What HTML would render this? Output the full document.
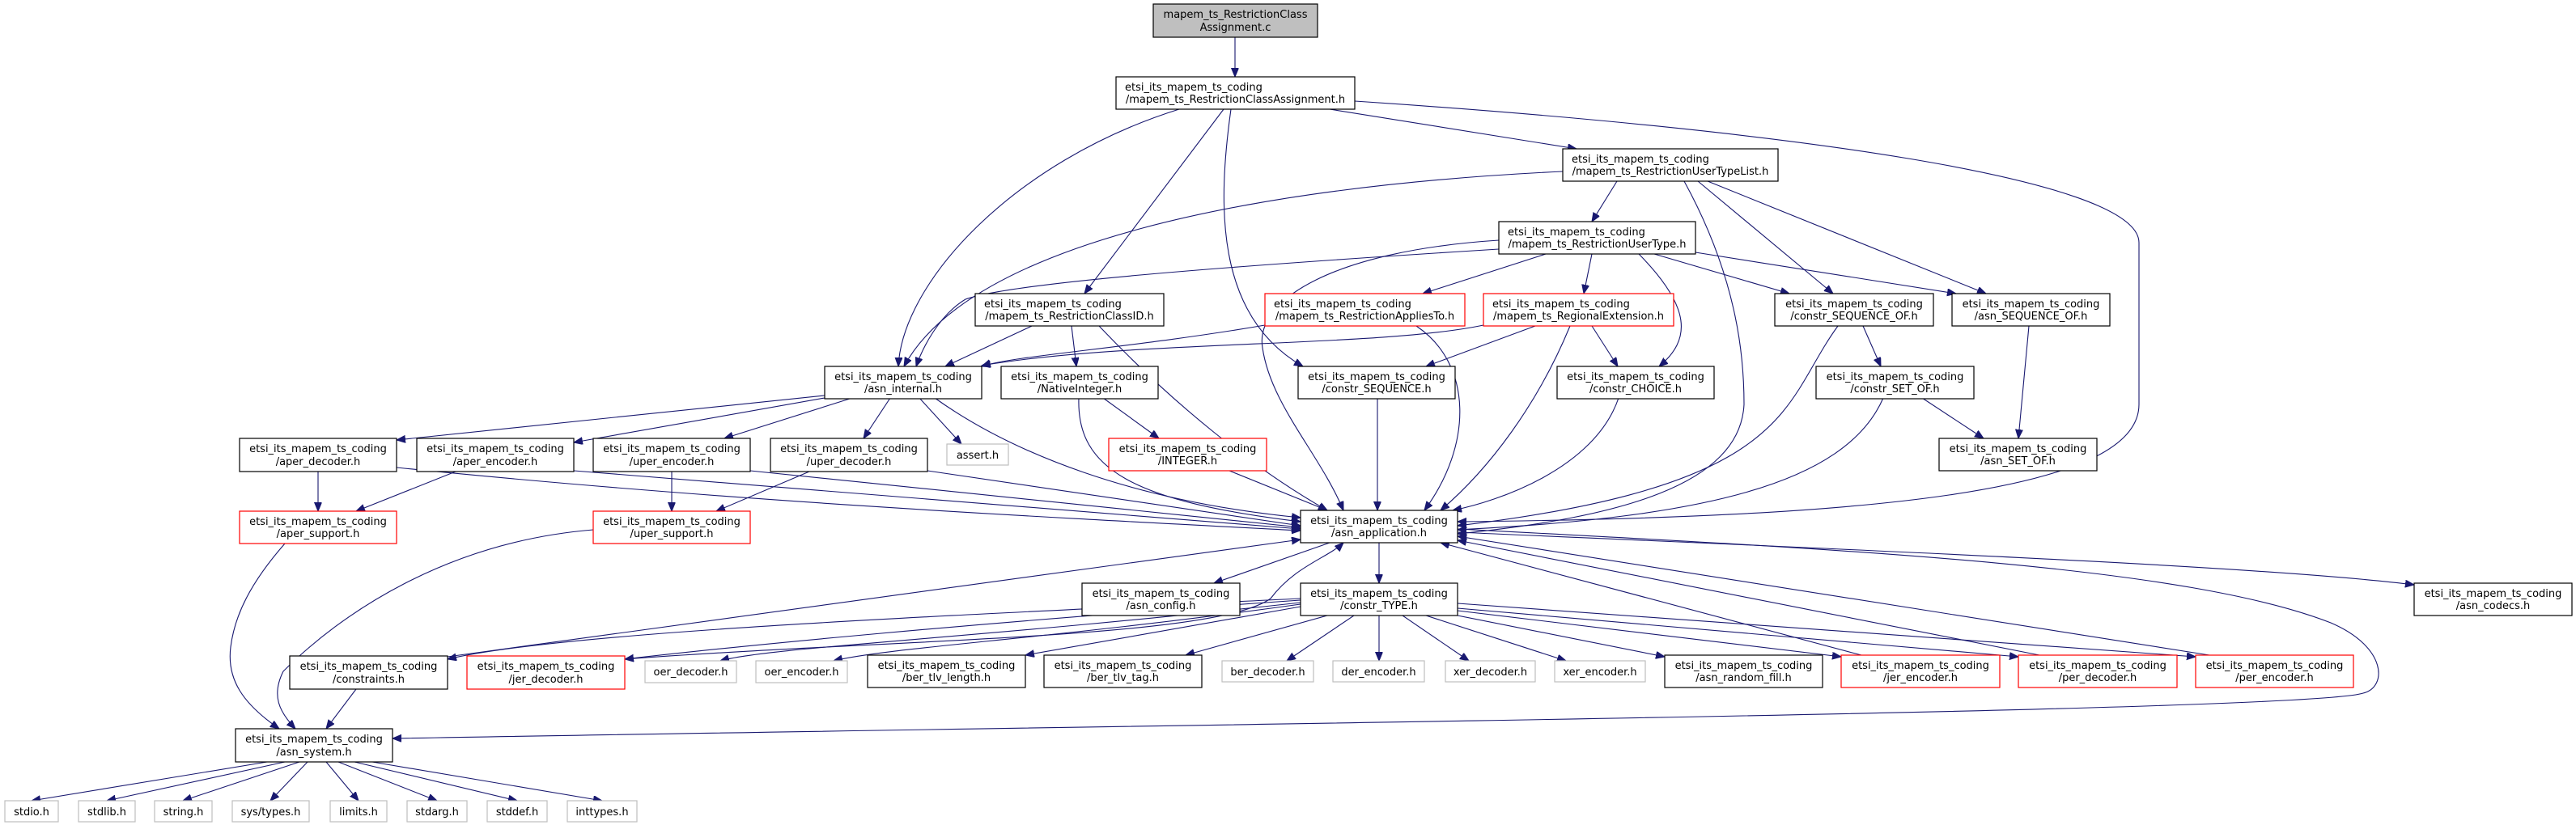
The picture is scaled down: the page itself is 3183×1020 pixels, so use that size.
<!DOCTYPE html>
<html><head><meta charset="utf-8"><style>
html,body{margin:0;padding:0;background:#fff;}
svg{display:block;}
text{font-family:"DejaVu Sans","Liberation Sans",sans-serif;font-size:13px;fill:#000;}
.n{fill:#fff;stroke:#000;stroke-width:1.2;}
.r{fill:#fff;stroke:#ff0000;stroke-width:1.2;}
.g{fill:#fff;stroke:#bfbfbf;stroke-width:1.2;}
.e{fill:none;stroke:#191970;stroke-width:1.1;}
</style></head><body>
<svg width="3183" height="1020" viewBox="0 0 3183 1020" xmlns="http://www.w3.org/2000/svg">
<defs><marker id="a" markerUnits="userSpaceOnUse" markerWidth="12" markerHeight="10" refX="11" refY="4.5" orient="auto"><polygon points="0,0 11,4.5 0,9" fill="#191970" stroke="#191970"/></marker></defs>
<g marker-end="url(#a)">
<path class="e" d="M1526,46 L1526,95"/>
<path class="e" d="M1643,135 L1948,184"/>
<path class="e" d="M1674,125 C2200,160 2643,220 2643,300 L2643,500 C2643,610 2300,640 1801,645"/>
<path class="e" d="M1457,135 C1250,200 1115,350 1110,453"/>
<path class="e" d="M1512,135 L1340,363"/>
<path class="e" d="M1521,135 C1505,250 1500,390 1610,453"/>
<path class="e" d="M1998,224 L1967,274"/>
<path class="e" d="M1931,212 C1550,230 1200,300 1117,453"/>
<path class="e" d="M2098,224 L2265,363"/>
<path class="e" d="M2110,224 L2454,363"/>
<path class="e" d="M2081,224 C2150,350 2155,450 2155,500 C2150,600 2000,640 1801,660"/>
<path class="e" d="M1910,314 L1758,363"/>
<path class="e" d="M1967,314 L1957,363"/>
<path class="e" d="M2025,314 C2090,380 2090,420 2050,453"/>
<path class="e" d="M2044,314 L2211,363"/>
<path class="e" d="M2095,312 L2417,363"/>
<path class="e" d="M1852,308 C1500,330 1250,350 1193,370 C1160,390 1140,430 1132,453"/>
<path class="e" d="M1852,297 C1650,310 1550,370 1560,430 C1570,500 1630,560 1660,631"/>
<path class="e" d="M1275,403 L1168,453"/>
<path class="e" d="M1324,403 L1330,453"/>
<path class="e" d="M1358,403 C1450,500 1550,580 1640,631"/>
<path class="e" d="M1563,402 C1400,430 1250,440 1213,453"/>
<path class="e" d="M1750,403 C1820,450 1820,550 1760,631"/>
<path class="e" d="M1833,402 C1700,430 1400,420 1213,452"/>
<path class="e" d="M1897,403 L1762,453"/>
<path class="e" d="M1967,403 L1999,453"/>
<path class="e" d="M1940,403 C1900,500 1840,580 1780,631"/>
<path class="e" d="M1019,489 L490,544"/>
<path class="e" d="M1019,492 L709,547"/>
<path class="e" d="M1053,492 L895,542"/>
<path class="e" d="M1100,492 L1067,542"/>
<path class="e" d="M1136,492 L1188,549"/>
<path class="e" d="M1155,492 C1250,560 1400,620 1607,640"/>
<path class="e" d="M1363,492 L1432,542"/>
<path class="e" d="M1333,492 C1330,580 1400,620 1607,645"/>
<path class="e" d="M1702,492 L1702,631"/>
<path class="e" d="M2000,492 C1970,580 1850,620 1795,631"/>
<path class="e" d="M2302,403 L2324,453"/>
<path class="e" d="M2271,403 C2200,500 2220,600 1801,650"/>
<path class="e" d="M2375,492 L2451,542"/>
<path class="e" d="M2327,492 C2280,600 2100,640 1801,655"/>
<path class="e" d="M2507,403 L2494,542"/>
<path class="e" d="M1519,582 L1640,631"/>
<path class="e" d="M393,583 L393,632"/>
<path class="e" d="M490,578 C900,620 1300,640 1607,656"/>
<path class="e" d="M563,583 L440,632"/>
<path class="e" d="M709,582 L1607,654"/>
<path class="e" d="M830,583 L830,632"/>
<path class="e" d="M927,582 L1607,652"/>
<path class="e" d="M1000,583 L885,632"/>
<path class="e" d="M1146,582 L1607,650"/>
<path class="e" d="M352,672 C310,720 290,760 285,800 C280,840 300,870 345,901"/>
<path class="e" d="M733,655 C550,670 420,760 350,830 C335,860 345,880 365,901"/>
<path class="e" d="M440,852 L403,901"/>
<path class="e" d="M1643,671 L1500,721"/>
<path class="e" d="M1704,671 L1704,721"/>
<path class="e" d="M1801,658 C2300,680 2800,700 2983,723"/>
<path class="e" d="M1801,654 C2300,680 2700,700 2880,770 C2950,800 2950,850 2920,857 C2850,880 1500,895 485,913"/>
<path class="e" d="M553,812 L1607,667"/>
<path class="e" d="M1607,740 C1200,760 700,780 553,815"/>
<path class="e" d="M1607,742 C1200,770 900,800 772,815"/>
<path class="e" d="M1607,745 C1200,790 950,800 890,817"/>
<path class="e" d="M1607,747 C1300,790 1100,800 1030,817"/>
<path class="e" d="M1607,750 L1267,810"/>
<path class="e" d="M1640,761 L1465,810"/>
<path class="e" d="M1673,761 L1590,817"/>
<path class="e" d="M1704,761 L1704,817"/>
<path class="e" d="M1733,761 L1815,817"/>
<path class="e" d="M1762,761 L1935,817"/>
<path class="e" d="M1801,761 L2057,812"/>
<path class="e" d="M1801,755 L2275,812"/>
<path class="e" d="M1801,752 L2494,812"/>
<path class="e" d="M1801,746 L2713,812"/>
<path class="e" d="M772,815 C1100,790 1500,790 1570,740 C1600,700 1640,690 1660,671"/>
<path class="e" d="M2300,810 L1780,671"/>
<path class="e" d="M2520,810 L1801,668"/>
<path class="e" d="M2730,810 L1801,663"/>
<path class="e" d="M330,942 L39,990"/>
<path class="e" d="M352,942 L132,990"/>
<path class="e" d="M370,942 L226,990"/>
<path class="e" d="M380,942 L334,990"/>
<path class="e" d="M403,942 L443,990"/>
<path class="e" d="M418,942 L540,990"/>
<path class="e" d="M438,942 L639,990"/>
<path class="e" d="M460,942 L744,990"/>
</g>

<rect x="1425" y="5" width="203" height="41" fill="#bfbfbf" stroke="#000" stroke-width="1.2"/>
<text x="1526.5" y="22" text-anchor="middle">mapem_ts_RestrictionClass</text><text x="1526.5" y="38" text-anchor="middle">Assignment.c</text>

<rect class="n" x="1379" y="95" width="295" height="40"/>
<text x="1390" y="112">etsi_its_mapem_ts_coding</text><text x="1526.5" y="127" text-anchor="middle">/mapem_ts_RestrictionClassAssignment.h</text>

<rect class="n" x="1931" y="184" width="266" height="40"/>
<text x="1942" y="201">etsi_its_mapem_ts_coding</text><text x="2064" y="216" text-anchor="middle">/mapem_ts_RestrictionUserTypeList.h</text>

<rect class="n" x="1852" y="274" width="243" height="40"/>
<text x="1863" y="291">etsi_its_mapem_ts_coding</text><text x="1973.5" y="306" text-anchor="middle">/mapem_ts_RestrictionUserType.h</text>

<rect class="n" x="1205" y="363" width="233" height="40"/>
<text x="1216" y="380">etsi_its_mapem_ts_coding</text><text x="1321.5" y="395" text-anchor="middle">/mapem_ts_RestrictionClassID.h</text>

<rect class="r" x="1563" y="363" width="247" height="40"/>
<text x="1574" y="380">etsi_its_mapem_ts_coding</text><text x="1686.5" y="395" text-anchor="middle">/mapem_ts_RestrictionAppliesTo.h</text>

<rect class="r" x="1833" y="363" width="235" height="40"/>
<text x="1844" y="380">etsi_its_mapem_ts_coding</text><text x="1950.5" y="395" text-anchor="middle">/mapem_ts_RegionalExtension.h</text>

<g text-anchor="middle">
<rect class="n" x="2193" y="363" width="196" height="40"/><text x="2291" y="380">etsi_its_mapem_ts_coding</text><text x="2291" y="395">/constr_SEQUENCE_OF.h</text>
<rect class="n" x="2412" y="363" width="195" height="40"/><text x="2509.5" y="380">etsi_its_mapem_ts_coding</text><text x="2509.5" y="395">/asn_SEQUENCE_OF.h</text>

<rect class="n" x="1019" y="453" width="194" height="40"/><text x="1116" y="470">etsi_its_mapem_ts_coding</text><text x="1116" y="485">/asn_internal.h</text>
<rect class="n" x="1237" y="453" width="194" height="40"/><text x="1334" y="470">etsi_its_mapem_ts_coding</text><text x="1334" y="485">/NativeInteger.h</text>
<rect class="n" x="1604" y="453" width="194" height="40"/><text x="1701" y="470">etsi_its_mapem_ts_coding</text><text x="1701" y="485">/constr_SEQUENCE.h</text>
<rect class="n" x="1924" y="453" width="194" height="40"/><text x="2021" y="470">etsi_its_mapem_ts_coding</text><text x="2021" y="485">/constr_CHOICE.h</text>
<rect class="n" x="2244" y="453" width="195" height="40"/><text x="2341.5" y="470">etsi_its_mapem_ts_coding</text><text x="2341.5" y="485">/constr_SET_OF.h</text>

<rect class="n" x="296" y="542" width="194" height="41"/><text x="393" y="559">etsi_its_mapem_ts_coding</text><text x="393" y="575">/aper_decoder.h</text>
<rect class="n" x="515" y="542" width="194" height="41"/><text x="612" y="559">etsi_its_mapem_ts_coding</text><text x="612" y="575">/aper_encoder.h</text>
<rect class="n" x="733" y="542" width="194" height="41"/><text x="830" y="559">etsi_its_mapem_ts_coding</text><text x="830" y="575">/uper_encoder.h</text>
<rect class="n" x="952" y="542" width="194" height="41"/><text x="1049" y="559">etsi_its_mapem_ts_coding</text><text x="1049" y="575">/uper_decoder.h</text>
<rect class="g" x="1170" y="549" width="76" height="26"/><text x="1208" y="567">assert.h</text>
<rect class="r" x="1370" y="542" width="195" height="40"/><text x="1467.5" y="559">etsi_its_mapem_ts_coding</text><text x="1467.5" y="574">/INTEGER.h</text>
<rect class="n" x="2396" y="542" width="195" height="40"/><text x="2493.5" y="559">etsi_its_mapem_ts_coding</text><text x="2493.5" y="574">/asn_SET_OF.h</text>

<rect class="r" x="296" y="632" width="194" height="40"/><text x="393" y="649">etsi_its_mapem_ts_coding</text><text x="393" y="664">/aper_support.h</text>
<rect class="r" x="733" y="632" width="194" height="40"/><text x="830" y="649">etsi_its_mapem_ts_coding</text><text x="830" y="664">/uper_support.h</text>
<rect class="n" x="1607" y="631" width="194" height="40"/><text x="1704" y="648">etsi_its_mapem_ts_coding</text><text x="1704" y="663">/asn_application.h</text>

<rect class="n" x="1337" y="721" width="195" height="40"/><text x="1434.5" y="738">etsi_its_mapem_ts_coding</text><text x="1434.5" y="753">/asn_config.h</text>
<rect class="n" x="1607" y="721" width="194" height="40"/><text x="1704" y="738">etsi_its_mapem_ts_coding</text><text x="1704" y="753">/constr_TYPE.h</text>
<rect class="n" x="2983" y="721" width="195" height="40"/><text x="3080.5" y="738">etsi_its_mapem_ts_coding</text><text x="3080.5" y="753">/asn_codecs.h</text>

<rect class="n" x="358" y="811" width="195" height="41"/><text x="455.5" y="828">etsi_its_mapem_ts_coding</text><text x="455.5" y="844">/constraints.h</text>
<rect class="r" x="577" y="811" width="195" height="41"/><text x="674.5" y="828">etsi_its_mapem_ts_coding</text><text x="674.5" y="844">/jer_decoder.h</text>
<rect class="g" x="797" y="817" width="113" height="27"/><text x="853.5" y="835">oer_decoder.h</text>
<rect class="g" x="934" y="817" width="113" height="27"/><text x="990.5" y="835">oer_encoder.h</text>
<rect class="n" x="1072" y="810" width="195" height="40"/><text x="1169.5" y="827">etsi_its_mapem_ts_coding</text><text x="1169.5" y="842">/ber_tlv_length.h</text>
<rect class="n" x="1290" y="810" width="195" height="40"/><text x="1387.5" y="827">etsi_its_mapem_ts_coding</text><text x="1387.5" y="842">/ber_tlv_tag.h</text>
<rect class="g" x="1510" y="817" width="113" height="26"/><text x="1566.5" y="835">ber_decoder.h</text>
<rect class="g" x="1647" y="817" width="113" height="26"/><text x="1703.5" y="835">der_encoder.h</text>
<rect class="g" x="1786" y="817" width="111" height="26"/><text x="1841.5" y="835">xer_decoder.h</text>
<rect class="g" x="1921" y="817" width="112" height="26"/><text x="1977" y="835">xer_encoder.h</text>
<rect class="n" x="2057" y="810" width="195" height="40"/><text x="2154.5" y="827">etsi_its_mapem_ts_coding</text><text x="2154.5" y="842">/asn_random_fill.h</text>
<rect class="r" x="2275" y="810" width="196" height="40"/><text x="2373" y="827">etsi_its_mapem_ts_coding</text><text x="2373" y="842">/jer_encoder.h</text>
<rect class="r" x="2494" y="810" width="196" height="40"/><text x="2592" y="827">etsi_its_mapem_ts_coding</text><text x="2592" y="842">/per_decoder.h</text>
<rect class="r" x="2713" y="810" width="195" height="40"/><text x="2810.5" y="827">etsi_its_mapem_ts_coding</text><text x="2810.5" y="842">/per_encoder.h</text>

<rect class="n" x="291" y="901" width="194" height="41"/><text x="388" y="918">etsi_its_mapem_ts_coding</text><text x="388" y="934">/asn_system.h</text>

<rect class="g" x="6" y="990" width="66" height="26"/><text x="39" y="1008">stdio.h</text>
<rect class="g" x="97" y="990" width="70" height="26"/><text x="132" y="1008">stdlib.h</text>
<rect class="g" x="191" y="990" width="71" height="26"/><text x="226.5" y="1008">string.h</text>
<rect class="g" x="287" y="990" width="95" height="26"/><text x="334.5" y="1008">sys/types.h</text>
<rect class="g" x="408" y="990" width="70" height="26"/><text x="443" y="1008">limits.h</text>
<rect class="g" x="503" y="990" width="74" height="26"/><text x="540" y="1008">stdarg.h</text>
<rect class="g" x="602" y="990" width="74" height="26"/><text x="639" y="1008">stddef.h</text>
<rect class="g" x="701" y="990" width="86" height="26"/><text x="744" y="1008">inttypes.h</text>
</g>
</svg>
</body></html>
